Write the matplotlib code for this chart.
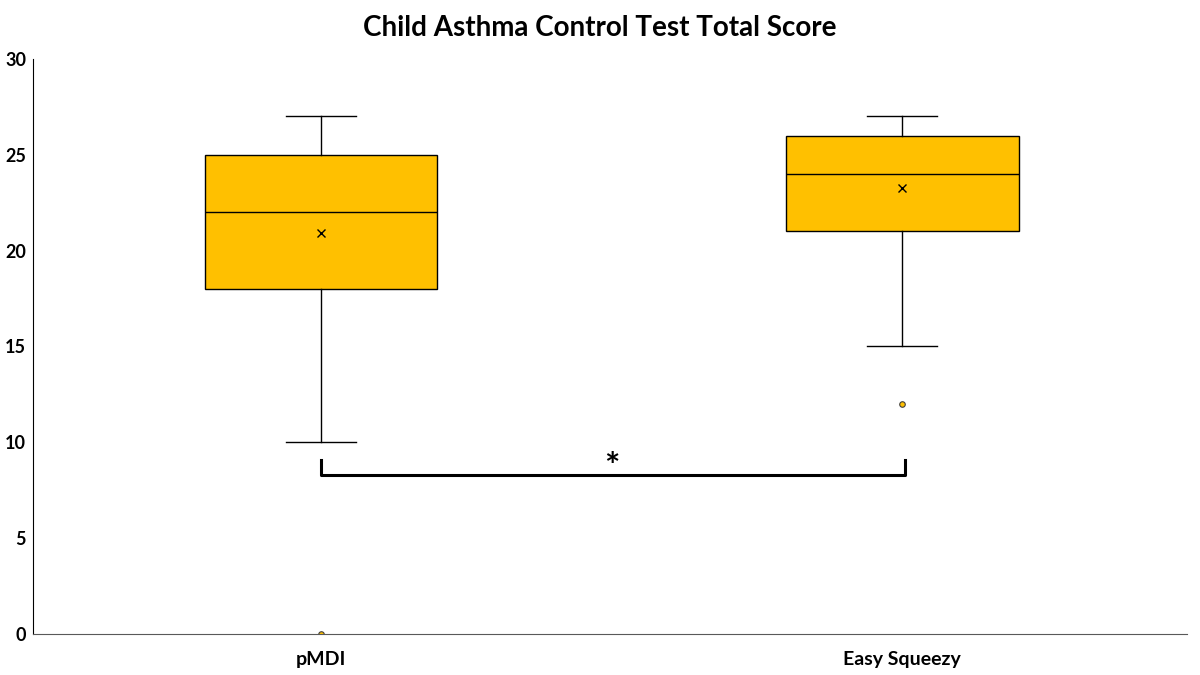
import matplotlib
matplotlib.use("Agg")
from matplotlib import pyplot as plt

plt.rcParams['font.family'] = ['Lato', 'DejaVu Sans']

# box statistics
groups = ["pMDI", "Easy Squeezy"]
whisker_low = [10, 15]
q1 = [18, 21]
medians = [22, 24]
q3 = [25, 26]
whisker_high = [27, 27]
means = [20.9, 23.25]
outliers = [[0], [12]]

stats = []
for i, name in enumerate(groups):
    stats.append({
        "label": name,
        "whislo": whisker_low[i],
        "q1": q1[i],
        "med": medians[i],
        "q3": q3[i],
        "whishi": whisker_high[i],
        "mean": means[i],
        "fliers": outliers[i],
    })

fig = plt.figure(figsize=(12, 6.75), dpi=100)
ax = fig.add_axes([0.0275, 0.0607, 0.9617, 0.852])

ax.bxp(stats, positions=[1, 2], widths=0.4, capwidths=0.12,
       showmeans=True, patch_artist=True,
       boxprops=dict(facecolor='#FFC000', edgecolor='black', linewidth=1),
       medianprops=dict(color='black', linewidth=1),
       whiskerprops=dict(color='black', linewidth=1),
       capprops=dict(color='black', linewidth=1),
       meanprops=dict(marker='x', markeredgecolor='black', markersize=5.5,
                      markeredgewidth=1),
       flierprops=dict(marker='o', markerfacecolor='#FFC000',
                       markeredgecolor='#404040', markersize=4,
                       markeredgewidth=0.8))

# significance bracket
ax.plot([1.0, 1.0, 2.004, 2.004], [9.1, 8.3, 8.3, 9.1], color='black',
        linewidth=2.2, clip_on=False)
ax.text(1.5, 8.7, "*", ha='center', va='center', fontsize=26,
        fontweight='bold')

ax.set_xlim(0.504, 2.49)
ax.set_ylim(0, 30)
ax.set_yticks([0, 5, 10, 15, 20, 25, 30])
ax.set_xticks([1, 2])
ax.set_xticklabels(groups)
ax.tick_params(axis='both', length=0, labelsize=13)
ax.tick_params(axis='y', pad=5)
ax.tick_params(axis='x', pad=12, labelsize=14)
for lab in ax.get_xticklabels() + ax.get_yticklabels():
    lab.set_fontweight('bold')

ax.spines['top'].set_visible(False)
ax.spines['right'].set_visible(False)
ax.spines['left'].set_color('black')
ax.spines['bottom'].set_color('#595959')

fig.text(0.5, 0.958, "Child Asthma Control Test Total Score", ha='center',
         va='center', fontsize=20, fontweight='bold')

fig.savefig("out.png", dpi=100)
